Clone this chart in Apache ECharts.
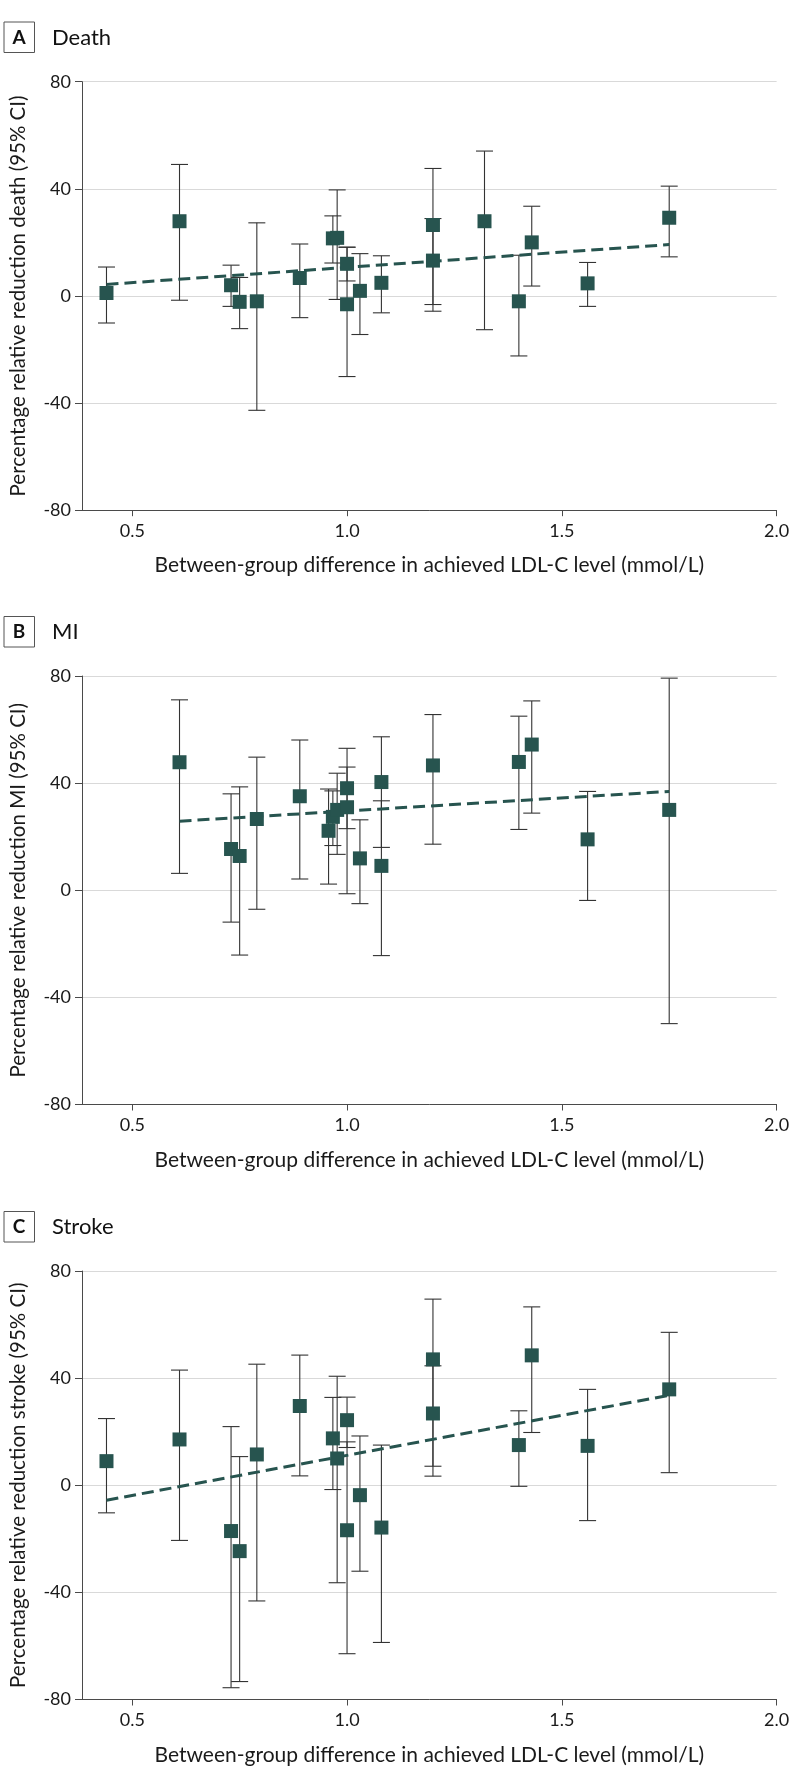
<!DOCTYPE html>
<html>
<head>
<meta charset="utf-8">
<script src="https://cdn.jsdelivr.net/npm/echarts@6/dist/echarts.min.js"></script>
<style>
  html, body { margin: 0; padding: 0; background: #fff; }
  #chart { width: 794px; height: 1784px; }
</style>
</head>
<body>
<div id="chart"></div>
<script>
// ---------- Data ----------
const xTickValues = [0.5, 1.0, 1.5, 2.0];
const yTickValues = [-80, -40, 0, 40, 80];
const xAxisTitle = 'Between-group difference in achieved LDL-C level (mmol/L)';

// Panel A: Death
const deathX   = [0.44, 0.61, 0.73, 0.75, 0.79, 0.89, 0.967, 0.977, 1.00, 1.00, 1.03, 1.08, 1.20, 1.20, 1.32, 1.40, 1.43, 1.56, 1.75];
const deathEst = [1.1, 27.9, 4.0, -2.2, -2.0, 6.7, 21.5, 21.7, 12.0, -3.1, 1.9, 4.9, 26.5, 13.2, 27.9, -2.0, 20.0, 4.7, 29.2];
const deathLo  = [-10.1, -1.6, -3.9, -12.2, -42.7, -8.1, 12.3, -1.3, 5.6, -30.1, -14.4, -6.3, -5.7, -3.2, -12.6, -22.4, 3.7, -3.9, 14.6];
const deathHi  = [10.8, 49.1, 11.5, 6.9, 27.3, 19.4, 29.9, 39.6, 18.2, 18.2, 15.8, 15.0, 47.6, 28.9, 54.1, 15.2, 33.5, 12.5, 41.0];
const deathTrendX = [0.44, 1.75];
const deathTrendY = [4.3, 19.2];

// Panel B: MI
const miX   = [0.61, 0.73, 0.75, 0.79, 0.89, 0.957, 0.967, 0.977, 1.00, 1.00, 1.03, 1.08, 1.08, 1.20, 1.40, 1.43, 1.56, 1.75];
const miEst = [47.8, 15.4, 12.8, 26.6, 35.1, 22.2, 27.4, 30.0, 38.1, 31.0, 11.9, 40.4, 9.1, 46.6, 47.9, 54.4, 19.0, 30.0];
const miLo  = [6.3, -11.9, -24.2, -7.1, 4.2, 2.3, 16.7, 13.4, 23.0, -1.3, -5.0, 16.0, -24.4, 17.2, 22.7, 28.8, -3.8, -49.8];
const miHi  = [71.1, 36.0, 38.6, 49.7, 56.1, 37.8, 37.1, 43.7, 53.0, 46.0, 26.3, 57.3, 33.4, 65.6, 65.0, 70.7, 36.9, 79.2];
const miTrendX = [0.61, 1.75];
const miTrendY = [25.8, 36.9];

// Panel C: Stroke
const strokeX   = [0.44, 0.61, 0.73, 0.75, 0.79, 0.89, 0.967, 0.977, 1.00, 1.00, 1.03, 1.08, 1.20, 1.20, 1.40, 1.43, 1.56, 1.75];
const strokeEst = [9.0, 17.1, -17.1, -24.6, 11.5, 29.6, 17.5, 10.0, 24.3, -16.8, -3.7, -15.8, 47.0, 26.8, 15.0, 48.5, 14.7, 35.8];
const strokeLo  = [-10.3, -20.6, -75.6, -73.3, -43.2, 3.5, -1.6, -36.4, 14.1, -62.9, -32.1, -58.7, 7.1, 3.4, -0.4, 19.7, -13.2, 4.7];
const strokeHi  = [24.9, 43.0, 21.9, 10.7, 45.2, 48.6, 32.8, 40.7, 32.9, 16.2, 18.4, 15.0, 69.5, 44.6, 27.8, 66.6, 35.8, 57.1];
const strokeTrendX = [0.44, 1.75];
const strokeTrendY = [-5.6, 33.6];

const panels = [
  { letter: 'A', title: 'Death',  yName: 'Percentage relative reduction death (95% CI)',  x: deathX,  est: deathEst,  lo: deathLo,  hi: deathHi,  tx: deathTrendX,  ty: deathTrendY },
  { letter: 'B', title: 'MI',     yName: 'Percentage relative reduction MI (95% CI)',     x: miX,     est: miEst,     lo: miLo,     hi: miHi,     tx: miTrendX,     ty: miTrendY },
  { letter: 'C', title: 'Stroke', yName: 'Percentage relative reduction stroke (95% CI)', x: strokeX, est: strokeEst, lo: strokeLo, hi: strokeHi, tx: strokeTrendX, ty: strokeTrendY }
];

// ---------- Layout / style ----------
const FONT = 'Lato, "Noto Sans", sans-serif';
const TEAL = '#27544f';
const gridTops = [81.7, 676, 1271];
const gridH = 428.5;
const headerY = [21.5, 616, 1211];

const grids = [], xAxes = [], yAxes = [], series = [], graphics = [];

panels.forEach((p, i) => {
  grids.push({ left: 80, width: 696.6, top: gridTops[i], height: gridH, containLabel: false });
  xAxes.push({
    type: 'value', gridIndex: i, min: 0.383, max: 2.0,
    name: xAxisTitle, nameLocation: 'middle', nameGap: 45,
    nameTextStyle: { fontFamily: FONT, fontSize: 21, color: '#1a1a1a' },
    axisLine: { show: true, onZero: false, lineStyle: { color: '#4a4a4a', width: 1 } },
    axisTick: { show: true, length: 6, customValues: xTickValues, lineStyle: { color: '#4a4a4a' } },
    axisLabel: { customValues: xTickValues, margin: 12, fontFamily: FONT, fontSize: 18, color: '#1a1a1a',
                 formatter: v => Number(v).toFixed(1) },
    splitLine: { show: false }
  });
  yAxes.push({
    type: 'value', gridIndex: i, min: -80, max: 80, interval: 40,
    name: p.yName, nameLocation: 'middle', nameRotate: 90, nameGap: 53,
    nameTextStyle: { fontFamily: FONT, fontSize: 20.5, color: '#1a1a1a' },
    axisLine: { show: true, lineStyle: { color: '#4a4a4a', width: 1 } },
    axisTick: { show: true, length: 7, lineStyle: { color: '#4a4a4a' } },
    axisLabel: { margin: 11, fontFamily: FONT, fontSize: 18, color: '#1a1a1a' },
    splitLine: { show: true, lineStyle: { color: '#d9d9d9', width: 1.2 } }
  });

  const barData = p.x.map((xv, k) => [xv, p.lo[k], p.hi[k]]);
  series.push({
    type: 'custom', xAxisIndex: i, yAxisIndex: i, z: 2,
    data: barData,
    encode: { x: 0, y: [1, 2] },
    renderItem: function (params, api) {
      const xv = api.value(0);
      const a = api.coord([xv, api.value(1)]);
      const b = api.coord([xv, api.value(2)]);
      const hw = 8.5;
      const st = { stroke: '#333333', lineWidth: 1.1 };
      return {
        type: 'group',
        children: [
          { type: 'line', shape: { x1: a[0], y1: a[1], x2: b[0], y2: b[1] }, style: st },
          { type: 'line', shape: { x1: a[0] - hw, y1: a[1], x2: a[0] + hw, y2: a[1] }, style: st },
          { type: 'line', shape: { x1: b[0] - hw, y1: b[1], x2: b[0] + hw, y2: b[1] }, style: st }
        ]
      };
    },
    silent: true
  });
  series.push({
    type: 'line', xAxisIndex: i, yAxisIndex: i, z: 3,
    data: p.tx.map((xv, k) => [xv, p.ty[k]]),
    symbol: 'none',
    lineStyle: { color: TEAL, width: 3, type: [12, 6] },
    silent: true
  });
  series.push({
    type: 'scatter', xAxisIndex: i, yAxisIndex: i, z: 4,
    data: p.x.map((xv, k) => [xv, p.est[k]]),
    symbol: 'rect', symbolSize: 14,
    itemStyle: { color: TEAL, opacity: 1 },
    silent: true
  });

  graphics.push({
    type: 'rect', left: 3.5, top: headerY[i],
    shape: { width: 30.5, height: 30.5 },
    style: { fill: '#fff', stroke: '#555', lineWidth: 1 }
  });
  graphics.push({
    type: 'text', x: 19, y: headerY[i] + 16,
    style: { text: p.letter, font: 'bold 19px ' + FONT, fill: '#111', align: 'center', verticalAlign: 'middle' }
  });
  graphics.push({
    type: 'text', x: 52, y: headerY[i] + 16,
    style: { text: p.title, font: '22px ' + FONT, fill: '#111', align: 'left', verticalAlign: 'middle' }
  });
});

const chart = echarts.init(document.getElementById('chart'), null, { renderer: 'canvas' });
chart.setOption({
  animation: false,
  backgroundColor: '#ffffff',
  grid: grids,
  xAxis: xAxes,
  yAxis: yAxes,
  series: series,
  graphic: graphics
});
</script>
</body>
</html>
